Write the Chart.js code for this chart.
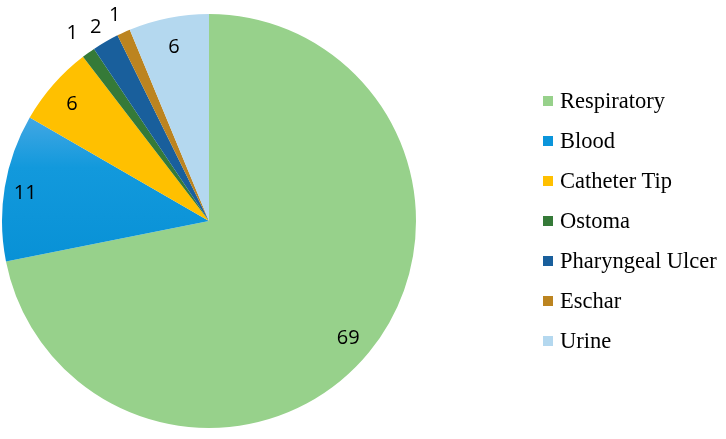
<!DOCTYPE html>
<html>
<head>
<meta charset="utf-8">
<script src="https://cdn.jsdelivr.net/npm/chart.js@4/dist/chart.umd.min.js"></script>
<style>
  html, body { margin: 0; padding: 0; background: #fff; }
  #wrap { position: relative; width: 726px; height: 439px; }
  #legend { position: absolute; left: 543px; top: 86px; font-family: "Liberation Serif", "Times New Roman", serif; font-size: 22.5px; color: #000; }
  .item { height: 40px; line-height: 30px; display: flex; align-items: flex-start; }
  .box { width: 10px; height: 10px; margin-top: 10px; margin-right: 7px; }
</style>
</head>
<body>
<div id="wrap">
  <canvas id="pie" width="726" height="439"></canvas>
  <div id="legend"></div>
</div>
<script>
// categories and counts, clockwise from 12 o'clock
var categories = ["Respiratory", "Blood", "Catheter Tip", "Ostoma", "Pharyngeal Ulcer", "Eschar", "Urine"];
var counts = [69, 11, 6, 1, 2, 1, 6];
var colores = ["#97d18b", "#0b95db", "#ffc000", "#357a38", "#195f9c", "#bc8420", "#b4d8ef"];

// distancia de cada etiqueta al centro (fraccion del radio)
const labelRadius = [0.87, 0.9, 0.88, 1.135, 1.095, 1.105, 0.87];

// etiquetas con los valores
const valueLabels = {
  id: "valueLabels",
  afterDatasetsDraw(chart) {
    const ctx = chart.ctx;
    const meta = chart.getDatasetMeta(0);
    ctx.save();
    ctx.font = "20px 'Open Sans', sans-serif";
    ctx.fillStyle = "#000";
    ctx.textAlign = "center";
    ctx.textBaseline = "middle";
    meta.data.forEach((arc, i) => {
      const mid = (arc.startAngle + arc.endAngle) / 2;
      const r = arc.outerRadius * labelRadius[i];
      const x = arc.x + Math.cos(mid) * r;
      const y = arc.y + Math.sin(mid) * r + 3;
      ctx.fillText(String(counts[i]), x, y);
    });
    ctx.restore();
  },
};

// el azul de Blood es un poco mas claro arriba
function sliceColor(c) {
  const i = c.dataIndex;
  if (i !== 1 || !c.chart.chartArea) return colores[i];
  const g = c.chart.ctx.createLinearGradient(0, 115, 0, 265);
  g.addColorStop(0, "#45a8e4");
  g.addColorStop(0.35, "#1299dc");
  g.addColorStop(1, "#0891d6");
  return g;
}

new Chart(document.getElementById("pie"), {
  type: "pie",
  data: {
    labels: categories,
    datasets: [
      {
        data: counts,
        backgroundColor: sliceColor,
        borderWidth: 0,
      },
    ],
  },
  options: {
    responsive: false,
    animation: false,
    layout: { padding: { left: 2, top: 14, bottom: 11, right: 310 } },
    plugins: {
      legend: { display: false },
      tooltip: { enabled: false },
    },
  },
  plugins: [valueLabels],
});

// leyenda a la derecha
var legend = document.getElementById("legend");
categories.forEach((c, i) => {
  var row = document.createElement("div");
  row.className = "item";
  var box = document.createElement("span");
  box.className = "box";
  box.style.background = colores[i];
  var txt = document.createElement("span");
  txt.textContent = c;
  row.appendChild(box);
  row.appendChild(txt);
  legend.appendChild(row);
});
</script>
</body>
</html>
